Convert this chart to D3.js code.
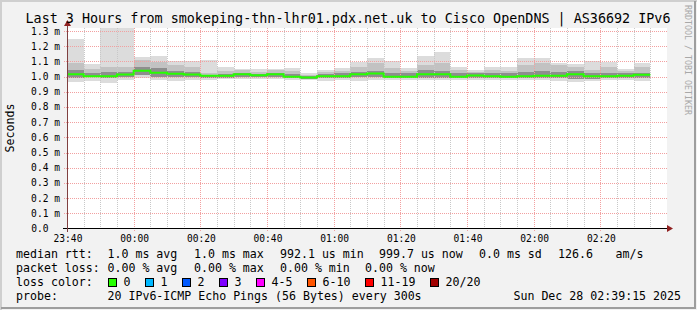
<!DOCTYPE html>
<html>
<head>
<meta charset="utf-8">
<script src="https://cdn.jsdelivr.net/npm/d3@7"></script>
<style>
  html, body { margin: 0; padding: 0; background: #ffffff; }
  svg { display: block; }
  text { font-family: "DejaVu Sans Mono", monospace; fill: #000; }
</style>
</head>
<body>
<div id="chart"></div>
<script>
/**
 * CONSTANTS AND GLOBALS
 * */
const width = 697,
  height = 310,
  margin = { top: 28, bottom: 81.5, left: 67, right: 30 };

const title = "Last 3 Hours from smokeping-thn-lhr01.pdx.net.uk to Cisco OpenDNS | AS36692 IPv6";

/**
 * DATA (milliseconds, one 5 minute step per entry starting 23:40)
 * */
const startTime = new Date(2025, 11, 27, 23, 40);
const endTime = new Date(2025, 11, 28, 2, 40);
const stepMinutes = 5;

// median rtt per step
const medRtt = [1.016, 1.003, 1.003, 1.014, 1.038, 1.025, 1.018, 1.014, 1.005, 1.005,
  1.016, 1.009, 1.016, 0.999, 0.994, 1.003, 1.003, 1.016, 1.021, 0.999,
  0.999, 1.016, 1.016, 0.999, 1.008, 1.003, 0.999, 1.003, 1.005, 1.005,
  1.016, 1.003, 1.003, 1.005, 1.012];
// slowest ping
const maxRtt = [1.247, 1.083, 1.35, 1.35, 1.127, 1.137, 1.105, 1.105, 1.109, 1.060,
  1.050, 1.050, 1.050, 1.054, 1.021, 1.043, 1.056, 1.098, 1.122, 1.105,
  1.056, 1.135, 1.162, 1.065, 1.043, 1.060, 1.060, 1.120, 1.122, 1.091,
  1.083, 1.105, 1.098, 1.050, 1.091];
// upper edge of the middle smoke
const upper2 = [1.091, 1.047, 1.065, 1.060, 1.109, 1.098, 1.076, 1.060, 1.021, 1.038,
  1.043, 1.032, 1.043, 1.036, 1.010, 1.032, 1.038, 1.065, 1.087, 1.054,
  1.038, 1.076, 1.087, 1.043, 1.032, 1.043, 1.036, 1.076, 1.091, 1.076,
  1.065, 1.043, 1.060, 1.038, 1.065];
// upper edge of the dark smoke
const upper3 = [1.043, 1.025, 1.032, 1.032, 1.065, 1.054, 1.038, 1.032, 1.012, 1.016,
  1.025, 1.016, 1.025, 1.016, 1.003, 1.016, 1.021, 1.032, 1.038, 1.025,
  1.021, 1.043, 1.038, 1.025, 1.021, 1.025, 1.021, 1.032, 1.038, 1.032,
  1.038, 1.021, 1.025, 1.021, 1.025];
// lower edge of the dark smoke
const lower3 = [0.992, 0.995, 0.990, 0.995, 1.010, 1.000, 0.995, 0.995, 0.990, 0.990,
  0.998, 0.995, 0.995, 0.990, 0.985, 0.990, 0.990, 0.995, 0.995, 0.990,
  0.990, 0.990, 0.990, 0.990, 0.990, 0.990, 0.990, 0.990, 0.990, 0.990,
  0.985, 0.985, 0.990, 0.990, 0.990];
// fastest ping
const minRtt = [0.966, 0.972, 0.959, 0.977, 0.988, 0.977, 0.972, 0.980, 0.980, 0.983,
  0.983, 0.985, 0.985, 0.980, 0.977, 0.972, 0.975, 0.972, 0.975, 0.975,
  0.975, 0.977, 0.975, 0.975, 0.977, 0.975, 0.977, 0.975, 0.977, 0.972,
  0.966, 0.970, 0.975, 0.977, 0.972];

const yTicks = [0, 0.1, 0.2, 0.3, 0.4, 0.5, 0.6, 0.7, 0.8, 0.9, 1.0, 1.1, 1.2, 1.3];

// legend rows: [text, x]
const rttStats = [["median rtt:", 16], ["1.0 ms avg", 107.5], ["1.0 ms max", 194], ["992.1 us min", 280],
  ["999.7 us now", 379], ["0.0 ms sd", 479], ["126.6", 558], ["am/s", 615.5]];
const lossStats = [["packet loss:", 16], ["0.00 % avg", 107.5], ["0.00 % max", 194], ["0.00 % min", 280],
  ["0.00 % now", 365]];
const lossLabels = ["0", "1", "2", "3", "4-5", "6-10", "11-19", "20/20"];
const lossColors = ["#26ff00", "#00b8ff", "#0059ff", "#7e00ff", "#ff00ff", "#ff5500", "#ff0000", "#a10000"];
const lossBoxX = [108, 145, 182, 219, 256, 307, 365, 430];
const probeRow = [["probe:", 16], ["20 IPv6-ICMP Echo Pings (56 Bytes) every 300s", 107.5]];
const stamp = "Sun Dec 28 02:39:15 2025";

/**
 * INIT
 * */
const svg = d3.select("#chart")
  .append("svg")
  .attr("width", width)
  .attr("height", height);

// background + 3d frame
svg.append("rect")
  .attr("width", width).attr("height", height)
  .attr("fill", "#f2f2f2");
svg.append("path")
  .attr("d", `M1,${height} V1 H${width}`)
  .attr("stroke", "#cfcfcf").attr("stroke-width", 2).attr("fill", "none");
svg.append("path")
  .attr("d", `M1,${height - 2} H${width - 2} V1`)
  .attr("stroke", "#9e9e9e").attr("stroke-width", 2).attr("fill", "none");

/* SCALES */
const xScale = d3.scaleTime()
  .domain([startTime, endTime])
  .range([margin.left, width - margin.right]);

const yScale = d3.scaleLinear()
  .domain([0, 1.32])
  .range([height - margin.bottom, margin.top]);

const plotTop = margin.top, plotBottom = height - margin.bottom;

svg.append("rect")
  .attr("x", margin.left).attr("y", plotTop)
  .attr("width", xScale.range()[1] - margin.left)
  .attr("height", plotBottom - plotTop)
  .attr("fill", "#ffffff");

svg.append("clipPath").attr("id", "plot")
  .append("rect")
  .attr("x", margin.left).attr("y", plotTop)
  .attr("width", xScale.range()[1] - margin.left)
  .attr("height", plotBottom - plotTop);

const steps = medRtt.map((m, i) => ({
  t0: d3.timeMinute.offset(startTime, i * stepMinutes),
  t1: d3.timeMinute.offset(startTime, (i + 1) * stepMinutes),
  med: m, max: maxRtt[i], up2: upper2[i], up3: upper3[i], lo3: lower3[i], min: minRtt[i]
}));

/* SMOKE */
const smoke = svg.append("g").attr("clip-path", "url(#plot)");
const bands = [
  { lo: d => d.min, hi: d => d.max, color: "#dcdcdc" },
  { lo: d => d.lo3, hi: d => d.up2, color: "#c2c2c2" },
  { lo: d => d.lo3, hi: d => d.up3, color: "#8e8e8e" }
];
bands.forEach(b => {
  smoke.selectAll(null)
    .data(steps)
    .join("rect")
    .attr("x", d => xScale(d.t0))
    .attr("width", d => xScale(d.t1) - xScale(d.t0))
    .attr("y", d => yScale(b.hi(d)))
    .attr("height", d => yScale(b.lo(d)) - yScale(b.hi(d)))
    .attr("fill", b.color)
    .attr("shape-rendering", "crispEdges");
});

/* GRID */
const grid = svg.append("g").attr("shape-rendering", "crispEdges");
const minorTimes = d3.timeMinute.every(5).range(startTime, endTime);
grid.selectAll("line.minor")
  .data(minorTimes.filter(t => t.getMinutes() % 20 !== 0))
  .join("line")
  .attr("x1", d => Math.round(xScale(d)) + 0.5).attr("x2", d => Math.round(xScale(d)) + 0.5)
  .attr("y1", plotTop).attr("y2", plotBottom)
  .attr("stroke", "#c8c8c8").attr("stroke-dasharray", "1,1");
grid.selectAll("line.major")
  .data(minorTimes.filter(t => t.getMinutes() % 20 === 0))
  .join("line")
  .attr("x1", d => Math.round(xScale(d)) + 0.5).attr("x2", d => Math.round(xScale(d)) + 0.5)
  .attr("y1", plotTop).attr("y2", plotBottom + 3)
  .attr("stroke", "#f2a0a0").attr("stroke-dasharray", "1,1");
grid.selectAll("line.hmajor")
  .data(yTicks.filter(v => v > 0))
  .join("line")
  .attr("x1", margin.left - 3).attr("x2", xScale.range()[1])
  .attr("y1", d => Math.round(yScale(d)) + 0.5).attr("y2", d => Math.round(yScale(d)) + 0.5)
  .attr("stroke", "#f2a0a0").attr("stroke-dasharray", "1,1");

/* MEDIAN */
const medPts = steps.map(d => [d.t0, d.med]).concat([[steps[steps.length - 1].t1, steps[steps.length - 1].med]]);
svg.append("path")
  .datum(medPts)
  .attr("d", d3.line().x(d => xScale(d[0])).y(d => yScale(d[1])).curve(d3.curveStepAfter))
  .attr("fill", "none")
  .attr("stroke", lossColors[0])
  .attr("stroke-width", 2);

/* AXES */
// x axis line + arrow
svg.append("line")
  .attr("x1", margin.left - 4).attr("x2", xScale.range()[1] + 1)
  .attr("y1", plotBottom).attr("y2", plotBottom)
  .attr("stroke", "#000").attr("shape-rendering", "crispEdges");
svg.append("path")
  .attr("d", `M${xScale.range()[1]},${plotBottom - 3.5} l6,3.5 l-6,3.5 z`)
  .attr("fill", "#902020");
// y axis line + arrow
svg.append("line")
  .attr("x1", margin.left + 0.5).attr("x2", margin.left + 0.5)
  .attr("y1", plotBottom + 3).attr("y2", plotTop - 4)
  .attr("stroke", "#804040").attr("shape-rendering", "crispEdges");
svg.append("path")
  .attr("d", `M${margin.left - 3},${plotTop - 2} l3.5,-6 l3.5,6 z`)
  .attr("fill", "#902020");

// x tick labels
svg.append("g").selectAll("text")
  .data(minorTimes.filter(t => t.getMinutes() % 20 === 0))
  .join("text")
  .attr("x", d => xScale(d) + 1)
  .attr("y", 241.5)
  .attr("text-anchor", "middle")
  .attr("font-size", "9.6px")
  .text(d3.timeFormat("%H:%M"));

// y tick labels
svg.append("g").selectAll("text")
  .data(yTicks)
  .join("text")
  .attr("x", d => d === 0 ? 48.5 : 60)
  .attr("y", d => yScale(d) + 3.5)
  .attr("text-anchor", "end")
  .attr("font-size", "9.6px")
  .text(d => d === 0 ? "0.0" : d3.format(".1f")(d) + " m");

// y axis title
svg.append("text")
  .attr("transform", "translate(14,128) rotate(-90)")
  .attr("text-anchor", "middle")
  .attr("font-size", "11.6px")
  .text("Seconds");

// chart title
svg.append("text")
  .attr("x", 348).attr("y", 23)
  .attr("text-anchor", "middle")
  .attr("font-size", "13.4px")
  .text(title);

// watermark
svg.append("text")
  .attr("transform", "translate(685,60) rotate(90)")
  .attr("text-anchor", "middle")
  .attr("font-size", "8.3px")
  .style("fill", "#a8a8a8")
  .text("RRDTOOL / TOBI OETIKER");

/* LEGEND */
const legend = svg.append("g").attr("font-size", "11.6px");
const row = (items, y) => legend.append("g").selectAll("text")
  .data(items)
  .join("text")
  .attr("x", d => d[1])
  .attr("y", y)
  .attr("xml:space", "preserve")
  .text(d => d[0]);

row(rttStats, 258);
row(lossStats, 272);
legend.append("text").attr("x", 16).attr("y", 286).text("loss color:");
legend.selectAll("rect.loss")
  .data(lossColors)
  .join("rect")
  .attr("x", (d, i) => lossBoxX[i] + 0.5)
  .attr("y", 278.5)
  .attr("width", 8).attr("height", 8)
  .attr("fill", d => d)
  .attr("stroke", "#000")
  .attr("shape-rendering", "crispEdges");
legend.selectAll("text.loss")
  .data(lossLabels)
  .join("text")
  .attr("x", (d, i) => lossBoxX[i] + 15.5)
  .attr("y", 286)
  .text(d => d);
row(probeRow, 300);
legend.append("text")
  .attr("x", 681).attr("y", 300)
  .attr("text-anchor", "end")
  .text(stamp);
</script>
</body>
</html>
